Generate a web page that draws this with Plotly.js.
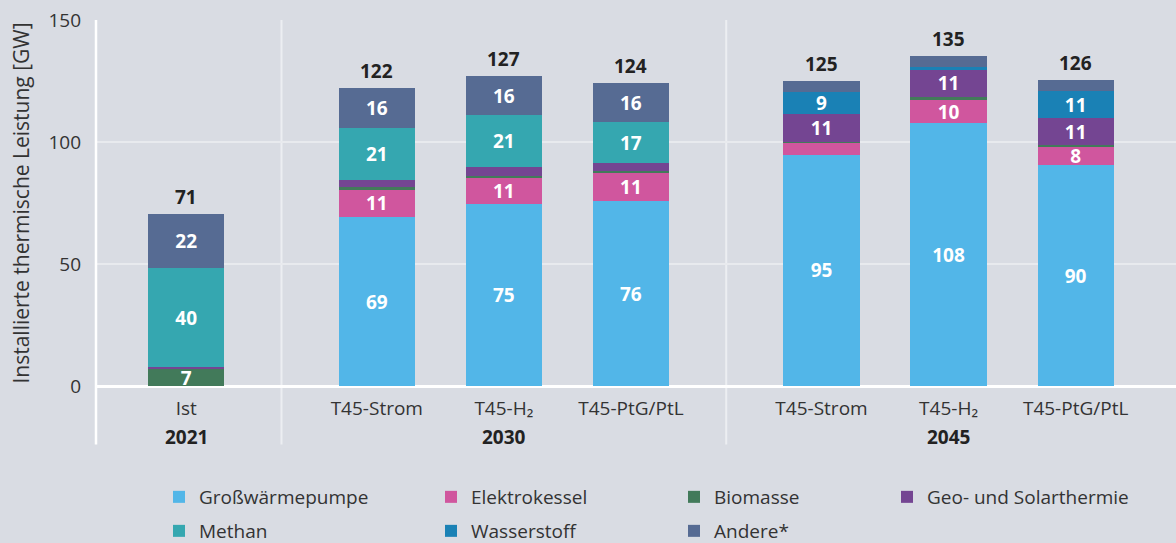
<!DOCTYPE html>
<html>
<head>
<meta charset="utf-8">
<script src="https://cdn.plot.ly/plotly-3.0.1.min.js"></script>
<style>
  html, body { margin: 0; padding: 0; background: #d9dce3; }
  #chart { width: 1176px; height: 543px; }
</style>
</head>
<body>
<div id="chart"></div>
<script>
// ---------- data ----------
const years = ['2021', '2030', '2045'];
const groupSizes = [1, 3, 3];
const scenarios = ['Ist', 'T45-Strom', 'T45-H₂', 'T45-PtG/PtL', 'T45-Strom', 'T45-H₂', 'T45-PtG/PtL'];

const seriesNames = ['Großwärmepumpe', 'Elektrokessel', 'Biomasse', 'Geo- und Solarthermie', 'Methan', 'Wasserstoff', 'Andere*'];
const grosswaermepumpe = [0,    69.2, 74.6, 75.8, 94.8, 107.6, 90.4];
const elektrokessel    = [0,    11.2, 10.8, 11.4,  4.9,   9.8,  7.6];
const biomasse         = [6.8,   1.2,  0.8,  0.8,  0.5,   1.0,  0.8];
const geoSolar         = [1.1,   2.9,  3.6,  3.3, 11.4,  11.2, 10.9];
const methan           = [40.3, 21.4, 21.3, 16.8,  0,     0,    0  ];
const wasserstoff      = [0,     0,    0,    0,    8.9,   1.2, 11.2];
const andere           = [22.4, 16.1, 15.9, 16.0,  4.5,   4.4,  4.7];

const seriesValues = [grosswaermepumpe, elektrokessel, biomasse, geoSolar, methan, wasserstoff, andere];
const seriesColors = ['#52b6e8', '#d0569e', '#427a5a', '#744592', '#35a7b0', '#1a81b5', '#566b93'];

// ---------- layout helpers ----------
const W = 1176, H = 543;
const FONT = 'Open Sans, Noto Sans, sans-serif';
const TXT = '#333333';
const groupGap = 0.5;
const xPos = [];
const groupCenters = [];
const separators = [];
let p = 0;
groupSizes.forEach((n, gi) => {
  const start = p;
  for (let k = 0; k < n; k++) { xPos.push(p); p += 1; }
  groupCenters.push((start + p - 1) / 2);
  if (gi < groupSizes.length - 1) separators.push(p - 1 + (1 + groupGap) / 2);
  p += groupGap;
});

// legend grid (4 columns, row-major)
const legendCols = [159, 431, 674, 887];
const legendRows = [497, 531];
const legendId = i => (i === 0 ? 'legend' : 'legend' + (i + 1));

const traces = seriesNames.map((name, si) => ({
  type: 'bar',
  name: name,
  legend: legendId(si),
  x: xPos,
  y: seriesValues[si],
  width: 0.6,
  marker: { color: seriesColors[si] },
  text: seriesValues[si].map(v => v >= 6 ? String(Math.round(v)) : ''),
  texttemplate: '%{text}',
  textposition: 'inside',
  insidetextanchor: 'middle',
  constraintext: 'none',
  textangle: 0,
  textfont: { family: FONT, size: 19, color: '#ffffff', weight: 700 },
  hoverinfo: 'skip'
}));

const totals = xPos.map((_, i) => seriesValues.reduce((s, arr) => s + arr[i], 0));

const annotations = [];
totals.forEach((t, i) => {
  annotations.push({
    x: xPos[i], y: t, xref: 'x', yref: 'y',
    text: String(Math.round(t)), showarrow: false,
    yanchor: 'bottom', yshift: 2,
    font: { family: FONT, size: 19, color: '#222222', weight: 700 }
  });
});
years.forEach((yr, gi) => {
  annotations.push({
    x: groupCenters[gi], y: -0.139, xref: 'x', yref: 'paper',
    text: yr, showarrow: false, yanchor: 'middle',
    font: { family: FONT, size: 19, color: '#222222', weight: 700 }
  });
});

const shapes = [];
separators.forEach(s => {
  shapes.push({ type: 'line', xref: 'x', yref: 'paper', x0: s, x1: s, y0: -0.16, y1: 1,
    line: { color: '#eceef2', width: 2 }, layer: 'below' });
});
shapes.push({ type: 'line', xref: 'paper', yref: 'paper', x0: 0, x1: 0, y0: -0.16, y1: 1,
  line: { color: '#ffffff', width: 2.5 }, layer: 'above' });

const layout = {
  width: W, height: H,
  margin: { l: 96, r: 0, t: 20, b: 157 },
  paper_bgcolor: '#d9dce3',
  plot_bgcolor: '#d9dce3',
  barmode: 'stack',
  font: { family: FONT, size: 19, color: TXT },
  showlegend: true,
  xaxis: {
    range: [-0.71, 7.79],
    tickvals: xPos, ticktext: scenarios,
    showgrid: false, zeroline: false, showline: false,
    ticks: '', ticklabelstandoff: 9,
    tickfont: { family: FONT, size: 19, color: TXT },
    fixedrange: true
  },
  yaxis: {
    range: [0, 150], tickvals: [0, 50, 100, 150],
    showgrid: true, gridcolor: '#e8eaee', gridwidth: 2,
    zeroline: true, zerolinecolor: '#ffffff', zerolinewidth: 3,
    showline: false, ticks: '', ticklabelstandoff: 14,
    tickfont: { family: FONT, size: 19, color: TXT },
    title: { text: 'Installierte thermische Leistung [GW]', standoff: 13,
      font: { family: FONT, size: 21, color: TXT } },
    fixedrange: true
  },
  annotations: annotations,
  shapes: shapes
};

seriesNames.forEach((_, i) => {
  layout[legendId(i)] = {
    xref: 'container', yref: 'container',
    x: legendCols[i % 4] / W, xanchor: 'left',
    y: 1 - legendRows[Math.floor(i / 4)] / H, yanchor: 'middle',
    orientation: 'h',
    bgcolor: 'rgba(0,0,0,0)', borderwidth: 0,
    font: { family: FONT, size: 19, color: TXT }
  };
});

Plotly.newPlot('chart', traces, layout, { displayModeBar: false, staticPlot: true });
</script>
</body>
</html>
